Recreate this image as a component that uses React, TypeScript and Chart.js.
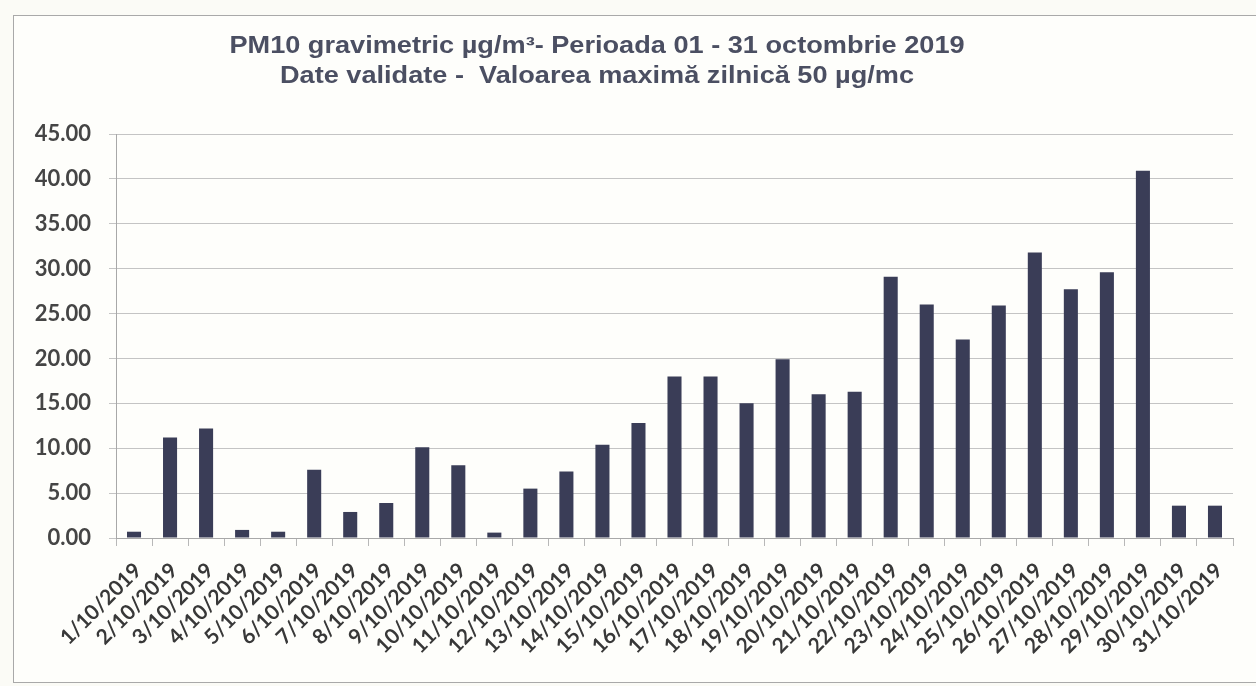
import React, { useEffect, useRef } from "react";
import { Chart, registerables } from "chart.js";

Chart.register(...registerables);

const categories = [
  "1/10/2019", "2/10/2019", "3/10/2019", "4/10/2019", "5/10/2019", "6/10/2019",
  "7/10/2019", "8/10/2019", "9/10/2019", "10/10/2019", "11/10/2019", "12/10/2019",
  "13/10/2019", "14/10/2019", "15/10/2019", "16/10/2019", "17/10/2019", "18/10/2019",
  "19/10/2019", "20/10/2019", "21/10/2019", "22/10/2019", "23/10/2019", "24/10/2019",
  "25/10/2019", "26/10/2019", "27/10/2019", "28/10/2019", "29/10/2019", "30/10/2019",
  "31/10/2019",
];

const pm10Values = [
  0.7, 11.2, 12.2, 0.9, 0.7, 7.6, 2.9, 3.9, 10.1, 8.1, 0.6, 5.5, 7.4, 10.4, 12.8,
  18.0, 18.0, 15.0, 19.9, 16.0, 16.3, 29.1, 26.0, 22.1, 25.9, 31.8, 27.7, 29.6,
  40.9, 3.6, 3.6,
];

const yMin = 0;
const yMax = 45;
const yStep = 5;

const titleLines = [
  "PM10 gravimetric µg/m³- Perioada 01 - 31 octombrie 2019",
  "Date validate -  Valoarea maximă zilnică 50 µg/mc",
];

export default function App() {
  const canvasRef = useRef<HTMLCanvasElement | null>(null);

  useEffect(() => {
    if (!canvasRef.current) return;

    const titlePlugin = {
      id: "scanTitle",
      afterDraw(chart: any) {
        const ctx = chart.ctx;
        ctx.save();
        ctx.font = "bold 23px 'Liberation Sans', Arial, sans-serif";
        ctx.fillStyle = "#4b4f62";
        ctx.textAlign = "center";
        ctx.textBaseline = "middle";
        const cx = 583;
        const sx = 1.18;
        ctx.translate(cx, 0);
        ctx.scale(sx, 1);
        ctx.fillText(titleLines[0], 0, 31);
        ctx.fillText(titleLines[1], 0, 61);
        ctx.restore();
      },
    };

    const chart = new Chart(canvasRef.current, {
      type: "bar",
      data: {
        labels: categories,
        datasets: [
          {
            data: pm10Values,
            backgroundColor: "#3a3d57",
            borderWidth: 0,
            barPercentage: 0.39,
            categoryPercentage: 1,
          },
        ],
      },
      options: {
        responsive: false,
        animation: false,
        layout: { padding: { top: 118, right: 17, left: 0, bottom: 0 } },
        plugins: {
          legend: { display: false },
          title: { display: false },
          tooltip: { enabled: false },
        },
        scales: {
          x: {
            offset: true,
            grid: {
              offset: true,
              drawOnChartArea: false,
              drawTicks: true,
              tickLength: 8,
              color: "#b8b8b8",
            },
            border: { color: "#a8a8a8" },
            ticks: {
              autoSkip: false,
              minRotation: 45,
              maxRotation: 45,
              padding: 12,
              labelOffset: 4,
              color: "#383838",
              font: { family: "Lato", weight: "bold", size: 21 },
            },
            afterFit: (scale: any) => {
              scale.height = 144;
            },
          },
          y: {
            min: yMin,
            max: yMax,
            ticks: {
              stepSize: yStep,
              padding: 18,
              color: "#454545",
              font: { family: "Lato", weight: "bold", size: 22 },
              callback: (v: any) => Number(v).toFixed(2),
            },
            grid: { color: "#c4c4c4", tickLength: 7 },
            border: { color: "#a8a8a8" },
            afterFit: (scale: any) => {
              scale.width = 102;
            },
          },
        },
      },
      plugins: [titlePlugin],
    });

    return () => chart.destroy();
  }, []);

  return (
    <div
      style={{
        position: "fixed",
        left: 0,
        top: 0,
        width: 1256,
        height: 686,
        background: "#fbfbf6",
        overflow: "hidden",
      }}
    >
      <div
        style={{
          position: "absolute",
          left: 13,
          top: 15,
          width: 1250,
          height: 666,
          border: "1px solid #a9a9a9",
          background: "#fefefb",
        }}
      >
        <canvas
          ref={canvasRef}
          width={1236}
          height={666}
          style={{ display: "block", width: 1236, height: 666 }}
        />
      </div>
    </div>
  );
}
